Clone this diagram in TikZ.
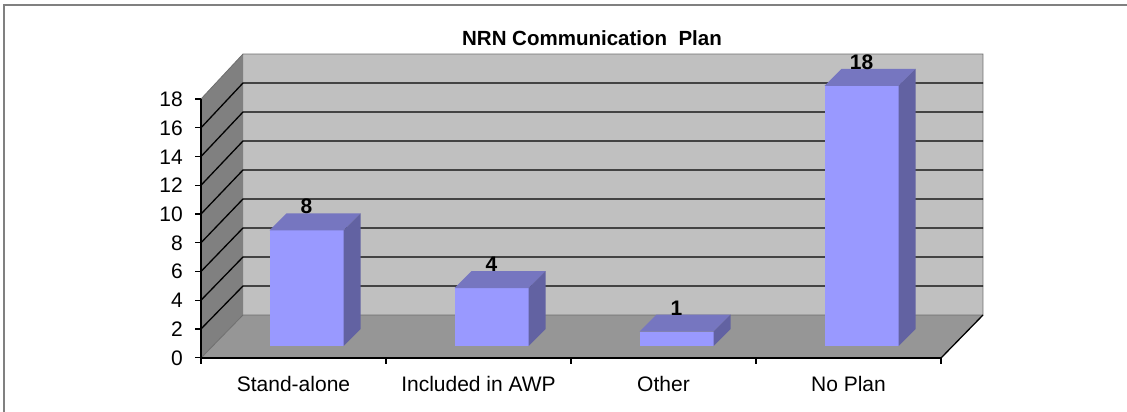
\documentclass[tikz,border=0pt]{standalone}
\usepackage{fontspec}
\setmainfont{Liberation Sans}
\definecolor{backwall}{HTML}{C0C0C0}
\definecolor{sidewall}{HTML}{808080}
\definecolor{floorc}{HTML}{969696}
\definecolor{barfront}{HTML}{9999FF}
\definecolor{bartop}{HTML}{7676C0}
\definecolor{barside}{HTML}{6262A2}
\definecolor{framec}{HTML}{808080}
\definecolor{edgec}{HTML}{6E6E6E}
\tikzset{
  axislabel/.style={font=\fontsize{21}{25}\selectfont, inner sep=0pt},
  valuelabel/.style={font=\fontsize{21}{25}\selectfont\bfseries, inner sep=0pt},
  titlelabel/.style={font=\fontsize{20.5}{24}\selectfont\bfseries, inner sep=0pt},
  gridline/.style={black, line width=1.3pt},
  axisline/.style={black, line width=1.3pt},
}
\begin{document}
\begin{tikzpicture}[x=1pt,y=-1pt]
\useasboundingbox (0,0) rectangle (1127,412);
% frame
\draw[framec, line width=2pt] (3.5,413) -- (3.5,5.5) -- (1128,5.5);
% walls
\fill[backwall] (243,54) rectangle (983,315);
\fill[sidewall] (201,99) -- (243,54) -- (243,315) -- (201,358) -- cycle;
\fill[floorc] (201,358) -- (243,315) -- (983,315) -- (941,358) -- cycle;
\draw[edgec, line width=0.8pt] (201,99) -- (243,54) -- (983,54) -- (983,315);
\draw[edgec, line width=0.8pt] (201,358) -- (243,315) -- (983,315);
% grid lines
\foreach \v in {2,4,...,16}{
  \pgfmathsetmacro{\fy}{357.7-\v*14.37}
  \pgfmathsetmacro{\by}{315-\v*14.5}
  \draw[gridline] (201,\fy) -- (243,\by) -- (983,\by);
}
% floor right edge
\draw[gridline] (941,358) -- (983,315);
% axes
\draw[axisline] (201,99) -- (201,358) -- (941,358);
\foreach \v in {0,2,...,18}{
  \pgfmathsetmacro{\fy}{357.7-\v*14.37}
  \draw[axisline] (195,\fy) -- (201,\fy);
  \node[axislabel, anchor=base east] (ylab\v) at (183,\fy+7.5) {\v};
}
\foreach \x in {201,386,571,756,941}{
  \draw[axisline] (\x,358) -- (\x,364);
}
% bars
\foreach \i/\v in {0/8,1/4,2/1,3/18}{
  \pgfmathsetmacro{\L}{269.5+185*\i}
  \pgfmathsetmacro{\T}{346-\v*14.45}
  \fill[barfront] (\L,346) rectangle (\L+74,\T);
  \fill[bartop] (\L,\T) -- (\L+17,\T-17) -- (\L+91,\T-17) -- (\L+74,\T) -- cycle;
  \fill[barside] (\L+74,346) -- (\L+74,\T) -- (\L+91,\T-17) -- (\L+91,329) -- cycle;
  \node[valuelabel, anchor=base] (val\i) at (\L+37,\T-16.5) {\v};
}
% category labels
\node[axislabel, anchor=base] (cat0) at (293.5,391) {Stand-alone};
\node[axislabel, anchor=base] (cat1) at (478.5,391) {Included in AWP};
\node[axislabel, anchor=base] (cat2) at (663.5,391) {Other};
\node[axislabel, anchor=base] (cat3) at (848.5,391) {No Plan};
% title
\node[titlelabel, anchor=base] (title) at (592,46) {NRN Communication\ \ Plan};
\end{tikzpicture}
\end{document}
